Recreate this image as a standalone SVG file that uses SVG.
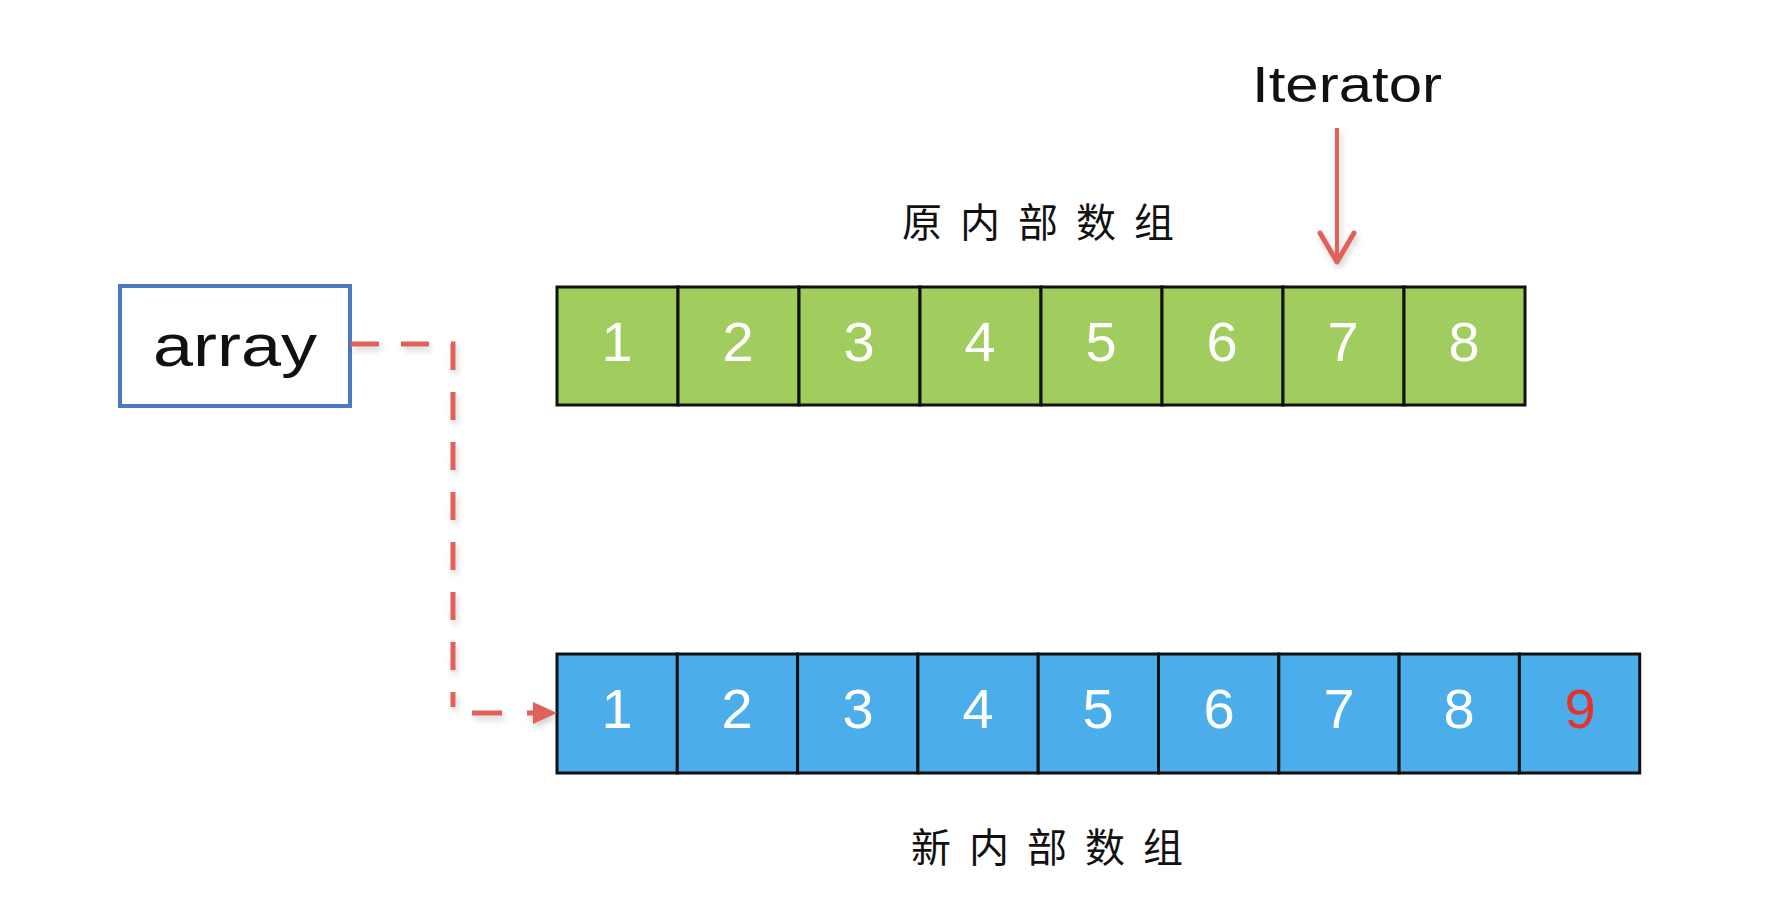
<svg xmlns="http://www.w3.org/2000/svg" width="1768" height="908" viewBox="0 0 1768 908">
<style>
.cellg{fill:#a1cd5f;stroke:#111;stroke-width:3}
.cellb{fill:#4badea;stroke:#111;stroke-width:3}
.num{font-family:"Liberation Sans","DejaVu Sans",sans-serif;font-size:56px;fill:#fff;text-anchor:middle}
.lbl{font-family:"Noto Sans CJK SC","Noto Sans",sans-serif;font-size:40px;fill:#111}
.red{stroke:#e0605a;fill:none}
</style>
<defs>
<filter id="sh" x="-20%" y="-20%" width="140%" height="140%">
<feDropShadow dx="2" dy="4" stdDeviation="3" flood-color="#000" flood-opacity="0.18"/>
</filter>
</defs>
<rect width="1768" height="908" fill="#fff"/>

<g id="array-node">
<rect x="120" y="286" width="230" height="120" fill="#fff" stroke="#4a7bc0" stroke-width="4"/>
<text x="235" y="366" font-family="Liberation Sans,DejaVu Sans,sans-serif" font-size="60" fill="#111" text-anchor="middle" textLength="164" lengthAdjust="spacingAndGlyphs">array</text>
</g>

<g id="iterator-label">
<text x="1347" y="102" font-family="Liberation Sans,DejaVu Sans,sans-serif" font-size="50" fill="#111" text-anchor="middle" textLength="190" lengthAdjust="spacingAndGlyphs">Iterator</text>
</g>

<g id="label-old"><text class="lbl" x="902" y="237" letter-spacing="18">原内部数组</text></g>
<g id="label-new"><text class="lbl" x="911" y="862" letter-spacing="18">新内部数组</text></g>

<g id="old-array">
<rect class="cellg" x="557" y="287" width="121" height="118"/>
<rect class="cellg" x="678" y="287" width="121" height="118"/>
<rect class="cellg" x="799" y="287" width="121" height="118"/>
<rect class="cellg" x="920" y="287" width="121" height="118"/>
<rect class="cellg" x="1041" y="287" width="121" height="118"/>
<rect class="cellg" x="1162" y="287" width="121" height="118"/>
<rect class="cellg" x="1283" y="287" width="121" height="118"/>
<rect class="cellg" x="1404" y="287" width="121" height="118"/>
<text class="num" x="617" y="361">1</text>
<text class="num" x="738" y="361">2</text>
<text class="num" x="859" y="361">3</text>
<text class="num" x="980" y="361">4</text>
<text class="num" x="1101" y="361">5</text>
<text class="num" x="1222" y="361">6</text>
<text class="num" x="1343" y="361">7</text>
<text class="num" x="1464" y="361">8</text>
</g>

<g id="new-array">
<rect class="cellb" x="557" y="654" width="120.3" height="119"/>
<rect class="cellb" x="677.3" y="654" width="120.3" height="119"/>
<rect class="cellb" x="797.6" y="654" width="120.3" height="119"/>
<rect class="cellb" x="917.9" y="654" width="120.3" height="119"/>
<rect class="cellb" x="1038.2" y="654" width="120.3" height="119"/>
<rect class="cellb" x="1158.5" y="654" width="120.3" height="119"/>
<rect class="cellb" x="1278.8" y="654" width="120.3" height="119"/>
<rect class="cellb" x="1399.1" y="654" width="120.3" height="119"/>
<rect class="cellb" x="1519.4" y="654" width="120.3" height="119"/>
<text class="num" x="617" y="728">1</text>
<text class="num" x="737" y="728">2</text>
<text class="num" x="858" y="728">3</text>
<text class="num" x="978" y="728">4</text>
<text class="num" x="1098" y="728">5</text>
<text class="num" x="1219" y="728">6</text>
<text class="num" x="1339" y="728">7</text>
<text class="num" x="1459" y="728">8</text>
<text class="num" x="1580" y="728" style="fill:#e8302a">9</text>
</g>

<g id="connectors" filter="url(#sh)">
<path class="red" d="M351,344 H453 V707" stroke-width="5" stroke-dasharray="28 22"/>
<path class="red" d="M472,713 H502 M527,713 H536" stroke-width="5"/>
<polygon points="533,702 557,713 533,724" fill="#e0605a"/>
<path class="red" d="M1337,128 V262" stroke-width="4"/>
<path class="red" d="M1320,233 L1337,262 L1354,233" stroke-width="5" stroke-linecap="round" stroke-linejoin="round"/>
</g>
</svg>
